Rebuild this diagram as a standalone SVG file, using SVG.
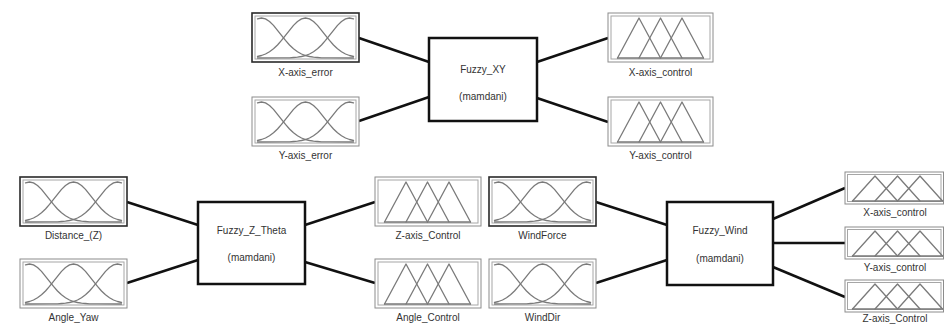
<svg xmlns="http://www.w3.org/2000/svg" xmlns:xlink="http://www.w3.org/1999/xlink" width="944" height="325" viewBox="0 0 944 325">
  <style>
    .bg { fill: #ffffff; }
    .mf-outer { fill: #ffffff; stroke: #8c8c8c; stroke-width: 1; }
    .mf-outer.sel { stroke: #2a2a2a; stroke-width: 1.6; }
    .mf-inner { fill: none; stroke: #a6a6a6; stroke-width: 1; }
    .curve { fill: none; stroke: #7a7a7a; stroke-width: 1.3; stroke-linejoin: round; stroke-linecap: round; }
    .fis { fill: #ffffff; stroke: #111111; stroke-width: 2.5; }
    .label { font-family: "Liberation Sans", Arial, sans-serif; font-size: 10px; fill: #333333; text-anchor: middle; }
    .conn line { stroke: #111111; stroke-width: 2.5; stroke-linecap: butt; }
  </style>
  <defs>
    <!-- gaussian membership functions, box 107 x 49 -->
    <g id="gauss">
      <polyline class="curve" points="5.5,5.9 9.5,5 13.5,5.9 17.5,8.5 21.5,12.4 25.5,17.3 29.5,22.4 33.5,27.4 37.5,32 41.5,35.8 45.5,38.7 49.5,41 53.5,42.5 57.5,43.5 61.5,44.2 65.5,44.5 69.5,44.8 77.5,44.95 101.5,45"/>
      <polyline class="curve" points="5.5,43.5 9.5,42.5 13.5,41 17.5,38.7 21.5,35.8 25.5,32 29.5,27.4 33.5,22.4 37.5,17.3 41.5,12.4 45.5,8.5 49.5,5.9 53.5,5 57.5,5.9 61.5,8.5 65.5,12.4 69.5,17.3 73.5,22.4 77.5,27.4 81.5,32 85.5,35.8 89.5,38.7 93.5,41 97.5,42.5 101.5,43.5"/>
      <polyline class="curve" points="101.5,5.9 97.5,5 93.5,5.9 89.5,8.5 85.5,12.4 81.5,17.3 77.5,22.4 73.5,27.4 69.5,32 65.5,35.8 61.5,38.7 57.5,41 53.5,42.5 49.5,43.5 45.5,44.2 41.5,44.5 37.5,44.8 29.5,44.95 5.5,45"/>
    </g>
    <!-- triangular membership functions, box 105 x 49 -->
    <g id="tri">
      <polyline class="curve" points="9.5,45 31,5 52.5,45"/>
      <polyline class="curve" points="31,45 52.5,5 74,45"/>
      <polyline class="curve" points="52.5,45 74,5 95.5,45"/>
      <line class="curve" x1="9.5" y1="45" x2="95.5" y2="45"/>
    </g>
    <!-- triangular membership functions, box 99 x 32 -->
    <g id="tri-small">
      <polyline class="curve" points="7.5,29 30,4 52.5,29"/>
      <polyline class="curve" points="30,29 52.5,4 75,29"/>
      <polyline class="curve" points="52.5,29 75,4 97.5,29"/>
      <line class="curve" x1="7.5" y1="29" x2="97.5" y2="29"/>
    </g>
  </defs>

  <rect class="bg" x="0" y="0" width="944" height="325"/>

  <!-- connectors -->
  <g id="connectors" class="conn">
    <line x1="359" y1="38" x2="429" y2="62"/>
    <line x1="359" y1="121" x2="429" y2="97"/>
    <line x1="537" y1="62" x2="608" y2="38"/>
    <line x1="537" y1="98" x2="608" y2="122"/>
    <line x1="127" y1="202" x2="198" y2="225"/>
    <line x1="127" y1="283" x2="198" y2="260"/>
    <line x1="305" y1="225" x2="375" y2="202"/>
    <line x1="305" y1="262" x2="375" y2="283"/>
    <line x1="596" y1="202" x2="667" y2="225"/>
    <line x1="596" y1="283" x2="667" y2="260"/>
    <line x1="773" y1="219" x2="845" y2="188"/>
    <line x1="773" y1="243" x2="845" y2="243"/>
    <line x1="773" y1="267" x2="845" y2="297"/>
  </g>

  <!-- Fuzzy_XY system -->
  <g id="x-axis-error" transform="translate(252,13)">
    <rect class="mf-outer sel" x="0" y="0" width="107" height="49"/>
    <rect class="mf-inner" x="3" y="3" width="101" height="43"/>
    <use xlink:href="#gauss" href="#gauss"/>
    <text class="label" x="53.5" y="63">X-axis_error</text>
  </g>
  <g id="y-axis-error" transform="translate(252,97)">
    <rect class="mf-outer" x="0" y="0" width="107" height="49"/>
    <rect class="mf-inner" x="3" y="3" width="101" height="43"/>
    <use xlink:href="#gauss" href="#gauss"/>
    <text class="label" x="53.5" y="62">Y-axis_error</text>
  </g>
  <g id="fuzzy-xy">
    <rect class="fis" x="429" y="38" width="108" height="83"/>
    <text class="label" x="483" y="73">Fuzzy_XY</text>
    <text class="label" x="483" y="100">(mamdani)</text>
  </g>
  <g id="x-axis-control" transform="translate(608,13)">
    <rect class="mf-outer" x="0" y="0" width="105" height="49"/>
    <rect class="mf-inner" x="3" y="3" width="99" height="43"/>
    <use xlink:href="#tri" href="#tri"/>
    <text class="label" x="52.5" y="63">X-axis_control</text>
  </g>
  <g id="y-axis-control" transform="translate(608,97)">
    <rect class="mf-outer" x="0" y="0" width="105" height="49"/>
    <rect class="mf-inner" x="3" y="3" width="99" height="43"/>
    <use xlink:href="#tri" href="#tri"/>
    <text class="label" x="52.5" y="62">Y-axis_control</text>
  </g>

  <!-- Fuzzy_Z_Theta system -->
  <g id="distance-z" transform="translate(20,177)">
    <rect class="mf-outer sel" x="0" y="0" width="107" height="49"/>
    <rect class="mf-inner" x="3" y="3" width="101" height="43"/>
    <use xlink:href="#gauss" href="#gauss"/>
    <text class="label" x="53.5" y="61.5">Distance_(Z)</text>
  </g>
  <g id="angle-yaw" transform="translate(20,259)">
    <rect class="mf-outer" x="0" y="0" width="107" height="49"/>
    <rect class="mf-inner" x="3" y="3" width="101" height="43"/>
    <use xlink:href="#gauss" href="#gauss"/>
    <text class="label" x="53.5" y="62">Angle_Yaw</text>
  </g>
  <g id="fuzzy-z-theta">
    <rect class="fis" x="198" y="202" width="107" height="82"/>
    <text class="label" x="251.5" y="234">Fuzzy_Z_Theta</text>
    <text class="label" x="251.5" y="261">(mamdani)</text>
  </g>
  <g id="z-axis-control" transform="translate(375,177)">
    <rect class="mf-outer" x="0" y="0" width="106" height="49"/>
    <rect class="mf-inner" x="3" y="3" width="100" height="43"/>
    <use xlink:href="#tri" href="#tri"/>
    <text class="label" x="53" y="61.5">Z-axis_Control</text>
  </g>
  <g id="angle-control" transform="translate(375,259)">
    <rect class="mf-outer" x="0" y="0" width="106" height="49"/>
    <rect class="mf-inner" x="3" y="3" width="100" height="43"/>
    <use xlink:href="#tri" href="#tri"/>
    <text class="label" x="53" y="62">Angle_Control</text>
  </g>

  <!-- Fuzzy_Wind system -->
  <g id="wind-force" transform="translate(489,177)">
    <rect class="mf-outer sel" x="0" y="0" width="107" height="49"/>
    <rect class="mf-inner" x="3" y="3" width="101" height="43"/>
    <use xlink:href="#gauss" href="#gauss"/>
    <text class="label" x="53.5" y="61.5">WindForce</text>
  </g>
  <g id="wind-dir" transform="translate(489,259)">
    <rect class="mf-outer" x="0" y="0" width="107" height="49"/>
    <rect class="mf-inner" x="3" y="3" width="101" height="43"/>
    <use xlink:href="#gauss" href="#gauss"/>
    <text class="label" x="53.5" y="62">WindDir</text>
  </g>
  <g id="fuzzy-wind">
    <rect class="fis" x="667" y="202" width="106" height="83"/>
    <text class="label" x="720" y="234">Fuzzy_Wind</text>
    <text class="label" x="720" y="262">(mamdani)</text>
  </g>
  <g id="wind-x-axis-control" transform="translate(845,172)">
    <rect class="mf-outer" x="0" y="0" width="98.5" height="32"/>
    <rect class="mf-inner" x="2.5" y="2.5" width="93.5" height="27"/>
    <use xlink:href="#tri-small" href="#tri-small"/>
    <text class="label" x="50" y="44">X-axis_control</text>
  </g>
  <g id="wind-y-axis-control" transform="translate(845,227)">
    <rect class="mf-outer" x="0" y="0" width="98.5" height="32"/>
    <rect class="mf-inner" x="2.5" y="2.5" width="93.5" height="27"/>
    <use xlink:href="#tri-small" href="#tri-small"/>
    <text class="label" x="50" y="44">Y-axis_control</text>
  </g>
  <g id="wind-z-axis-control" transform="translate(845,280)">
    <rect class="mf-outer" x="0" y="0" width="98.5" height="32"/>
    <rect class="mf-inner" x="2.5" y="2.5" width="93.5" height="27"/>
    <use xlink:href="#tri-small" href="#tri-small"/>
    <text class="label" x="50" y="42">Z-axis_Control</text>
  </g>
</svg>
